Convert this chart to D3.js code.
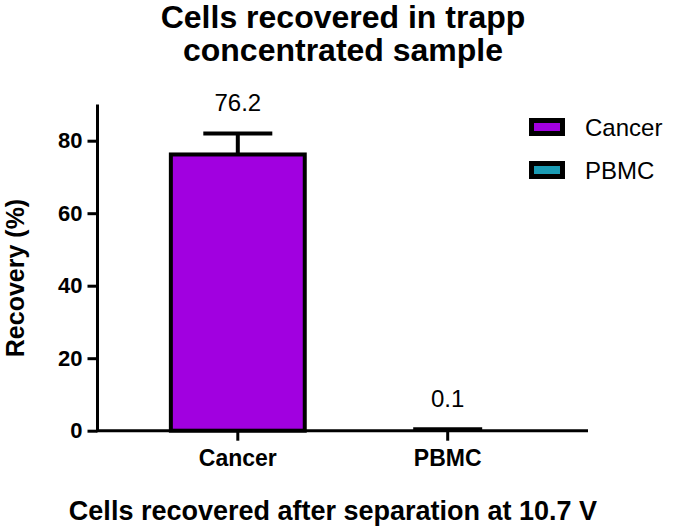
<!DOCTYPE html>
<html>
<head>
<meta charset="utf-8">
<script src="https://cdn.jsdelivr.net/npm/d3@7"></script>
<style>
  body { margin: 0; background: #fff; }
  svg { font-family: "Liberation Sans", Arial, sans-serif; }
</style>
</head>
<body>
<div id="chart"></div>
<script>
var categories = ["Cancer", "PBMC"];
var values = [76.2, 0.1];
var errors = [5.8, 0.3];
var valueLabels = ["76.2", "0.1"];
var colors = ["#a100e0", "#1a9bb4"];
var yTicks = [0, 20, 40, 60, 80];

var width = 675,
    height = 528;

var svg = d3.select("#chart")
    .append("svg")
    .attr("width", width)
    .attr("height", height);

var x = d3.scaleBand()
    .domain(categories)
    .range([97.5, 588])
    .paddingInner(0.343)
    .paddingOuter(0.34);

var y = d3.scaleLinear()
    .domain([0, 90])
    .range([430.7, 104.45]);

// bars
svg.append("g")
    .selectAll("rect")
    .data(categories)
    .enter().append("rect")
        .attr("x", function (d) { return x(d) + 2; })
        .attr("width", x.bandwidth() - 4)
        .attr("y", function (d, i) { return y(values[i]); })
        .attr("height", function (d, i) { return y(0) - y(values[i]); })
        .style("fill", function (d, i) { return colors[i]; })
        .style("stroke", "#000")
        .style("stroke-width", function (d, i) { return values[i] < 1 ? 0 : 4; });

// error bars (upper only)
var err = svg.append("g")
    .selectAll("g")
    .data(categories)
    .enter().append("g");

err.append("line")
    .attr("x1", function (d) { return x(d) + x.bandwidth() / 2; })
    .attr("x2", function (d) { return x(d) + x.bandwidth() / 2; })
    .attr("y1", function (d, i) { return y(values[i]); })
    .attr("y2", function (d, i) { return y(values[i] + errors[i]); })
    .style("stroke", "#000")
    .style("stroke-width", 4);

err.append("line")
    .attr("x1", function (d) { return x(d) + x.bandwidth() / 2 - 34.5; })
    .attr("x2", function (d) { return x(d) + x.bandwidth() / 2 + 34.5; })
    .attr("y1", function (d, i) { return y(values[i] + errors[i]); })
    .attr("y2", function (d, i) { return y(values[i] + errors[i]); })
    .style("stroke", "#000")
    .style("stroke-width", 4);

// value labels
svg.append("g")
    .selectAll("text")
    .data(categories)
    .enter().append("text")
        .attr("x", function (d) { return x(d) + x.bandwidth() / 2; })
        .attr("y", function (d, i) { return y(values[i] + errors[i]) - 22; })
        .attr("text-anchor", "middle")
        .style("font-size", "24px")
        .style("fill", "#000")
        .text(function (d, i) { return valueLabels[i]; });

// axes
var yAxis = d3.axisLeft(y)
    .tickValues(yTicks)
    .tickSize(10)
    .tickPadding(5);

var yGuide = svg.append("g")
    .attr("transform", "translate(97.5,0)")
    .call(yAxis);
yGuide.select(".domain").attr("d", "M0," + y(90) + "V" + y(0));
yGuide.selectAll("path, line").style("stroke", "#000").style("stroke-width", 3);
yGuide.selectAll("text")
    .style("font-size", "22px")
    .style("font-weight", "bold")
    .style("fill", "#000");

var xAxis = d3.axisBottom(x)
    .tickSize(10)
    .tickPadding(9);

var xGuide = svg.append("g")
    .attr("transform", "translate(0," + y(0) + ")")
    .call(xAxis);
xGuide.select(".domain").attr("d", "M96,0H588");
xGuide.selectAll("path, line").style("stroke", "#000").style("stroke-width", 3);
xGuide.selectAll("text")
    .style("font-size", "23px")
    .style("font-weight", "bold")
    .style("fill", "#000");

// titles
svg.append("text")
    .attr("x", 343)
    .attr("y", 28)
    .attr("text-anchor", "middle")
    .style("font-size", "32px")
    .style("font-weight", "bold")
    .text("Cells recovered in trapp");

svg.append("text")
    .attr("x", 343)
    .attr("y", 61)
    .attr("text-anchor", "middle")
    .style("font-size", "32px")
    .style("font-weight", "bold")
    .text("concentrated sample");

svg.append("text")
    .attr("x", 333)
    .attr("y", 520)
    .attr("text-anchor", "middle")
    .style("font-size", "27px")
    .style("font-weight", "bold")
    .text("Cells recovered after separation at 10.7 V");

svg.append("text")
    .attr("transform", "translate(24,278) rotate(-90)")
    .attr("text-anchor", "middle")
    .style("font-size", "25px")
    .style("font-weight", "bold")
    .text("Recovery (%)");

// legend
var legend = svg.append("g")
    .selectAll("g")
    .data(categories)
    .enter().append("g")
        .attr("transform", function (d, i) { return "translate(529," + (127 + i * 43) + ")"; });

legend.append("rect")
    .attr("x", 2.5)
    .attr("y", -6.5)
    .attr("width", 31)
    .attr("height", 13)
    .style("fill", function (d, i) { return colors[i]; })
    .style("stroke", "#000")
    .style("stroke-width", 5);

legend.append("text")
    .attr("x", 56)
    .attr("y", 9)
    .style("font-size", "24px")
    .text(function (d) { return d; });
</script>
</body>
</html>
